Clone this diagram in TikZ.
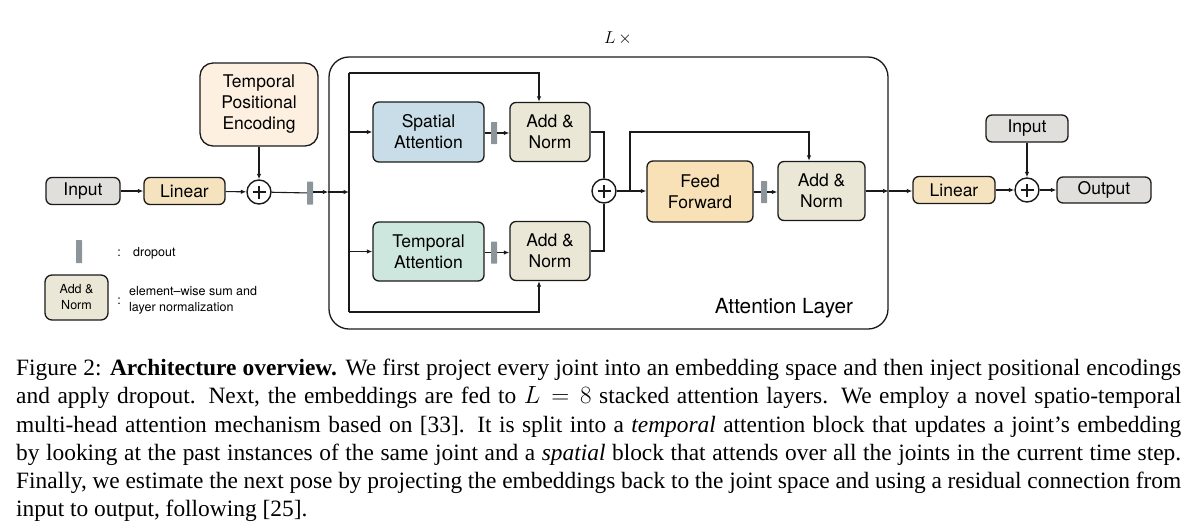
\documentclass[tikz,border=0pt]{standalone}
\usepackage{fontspec}
\setmainfont{Liberation Serif}
\newfontfamily\dfont{TeX Gyre Heros}
\usetikzlibrary{arrows.meta,calc}
\definecolor{cinput}{HTML}{E0DFDC}
\definecolor{clinear}{HTML}{F5E3BF}
\definecolor{ctpe}{HTML}{FDF0E1}
\definecolor{caddn}{HTML}{EBE7D6}
\definecolor{cspat}{HTML}{C8DDE7}
\definecolor{ctemp}{HTML}{CDE6DE}
\definecolor{cff}{HTML}{F8E1B6}
\definecolor{cdrop}{HTML}{8C9599}
\definecolor{cline}{HTML}{1A1A1A}
\begin{document}
\begin{tikzpicture}[x=1pt,y=-1pt,
  box/.style={draw=cline, line width=1.3pt, rounded corners=6pt, inner sep=0pt, align=center,
    font=\dfont\fontsize{17.5}{21}\selectfont},
  conn/.style={draw=cline, line width=1.1pt, -{Latex[length=5.5pt,width=4.5pt]}},
  plain/.style={draw=cline, line width=1.1pt},
  drop/.style={fill=cdrop, minimum width=6pt, minimum height=22pt, inner sep=0pt, rounded corners=0.5pt},
  plusnode/.style={circle, draw=cline, line width=1.4pt, fill=white, minimum size=24pt, inner sep=0pt,
    path picture={\draw[line width=1.8pt] ([xshift=-6.5pt]path picture bounding box.center) -- ++(13pt,0pt);
      \draw[line width=1.8pt] ([yshift=-6.5pt]path picture bounding box.center) -- ++(0pt,13pt);}},
  lbl/.style={inner sep=0pt, font=\dfont\fontsize{19}{22}\selectfont},
  small/.style={inner sep=0pt, font=\dfont\fontsize{12.5}{16}\selectfont, align=left}
]
\useasboundingbox (0,0) rectangle (1197,531);

% input side
\node[box, fill=cinput, minimum width=74pt, minimum height=27pt] (inp) at (83,191) {Input};
\node[box, fill=clinear, minimum width=81pt, minimum height=27pt] (lin1) at (184.5,191) {Linear};
\node[plusnode] (plus1) at (259,192) {};
\node[box, fill=ctpe, minimum width=118pt, minimum height=83pt, rounded corners=13pt] (tpe) at (259,104.5) {Temporal\\Positional\\Encoding};
\node[drop, minimum height=23pt] (drop1) at (310,193) {};

% attention layer frame
\node[draw=cline, line width=1.3pt, rounded corners=20pt, minimum width=559pt, minimum height=272pt, inner sep=0pt] (layer) at (608.5,193) {};
\node[lbl] (ltimes) at (618,38) {$L\,\times$};
\node[lbl, font=\dfont\fontsize{20.8}{24}\selectfont] (attl) at (784,308) {Attention Layer};

\coordinate (vin) at (349,192);
\coordinate (ctop) at (349,73);
\coordinate (cbot) at (349,312);

\node[box, fill=cspat, minimum width=111pt, minimum height=60pt] (sa) at (428.5,132) {Spatial\\Attention};
\node[box, fill=ctemp, minimum width=111pt, minimum height=59pt] (ta) at (428.5,251.5) {Temporal\\Attention};
\node[drop] (dsa) at (494,133) {};
\node[drop] (dta) at (494,252.5) {};
\node[box, fill=caddn, minimum width=80pt, minimum height=59pt] (an1) at (550,132) {Add \&\\Norm};
\node[box, fill=caddn, minimum width=80pt, minimum height=59pt] (an2) at (550,251) {Add \&\\Norm};
\node[plusnode] (plus2) at (604,191) {};
\node[box, fill=cff, minimum width=106pt, minimum height=61pt] (ff) at (700,191.5) {Feed\\Forward};
\node[drop] (dff) at (764,192) {};
\node[box, fill=caddn, minimum width=87pt, minimum height=59pt] (an3) at (821.5,191) {Add \&\\Norm};
\coordinate (br) at (630,191);

% output side
\node[box, fill=clinear, minimum width=82pt, minimum height=27pt] (lin2) at (954,190) {Linear};
\node[plusnode] (plus3) at (1027,190) {};
\node[box, fill=cinput, minimum width=82pt, minimum height=27pt] (inp2) at (1027,128.5) {Input};
\node[box, fill=cinput, minimum width=94pt, minimum height=26pt] (out) at (1104,190) {Output};

% connectors
\draw[conn] (inp) -- (lin1);
\draw[conn] (lin1) -- (plus1);
\draw[conn] (tpe) -- (plus1);
\draw[plain] (plus1) -- (drop1);
\draw[conn] (drop1.east |- vin) -- (layer.west |- vin);
\draw[conn] (layer.west |- vin) -- (vin);
\draw[plain] (ctop) -- (cbot);
\draw[conn] (vin |- sa) -- (sa.west);
\draw[conn] (vin |- ta) -- (ta.west);
\draw[plain] (sa.east |- dsa) -- (dsa);
\draw[conn] (dsa.east) -- (an1.west |- dsa);
\draw[plain] (ta.east |- dta) -- (dta);
\draw[conn] (dta.east) -- (an2.west |- dta);
\draw[conn] (ctop) -| ([xshift=-11pt]an1.north);
\draw[conn] (cbot) -| ([xshift=-11pt]an2.south);
\draw[plain] (an1.east) -| (plus2.north);
\draw[plain] (an2.east) -| (plus2.south);
\draw[conn] (plus2.east) -- (ff.west |- plus2);
\draw[conn] (br) -- ++(0,-59) -| ([xshift=-12.5pt]an3.north);
\draw[plain] (ff.east |- dff) -- (dff);
\draw[conn] (dff.east) -- (an3.west |- dff);
\draw[conn] (an3.east) -- (layer.east |- an3);
\draw[conn] (layer.east |- an3) -- (lin2.west |- an3);
\draw[conn] (lin2) -- (plus3);
\draw[conn] (inp2) -- (plus3);
\draw[conn] (plus3) -- (out);

% legend
\node[drop, minimum height=23pt] (ldrop) at (79,251.5) {};
\node[small] (lc1) at (119,253) {:};
\node[small, anchor=west] (ltxt1) at (133,253) {dropout};
\node[box, fill=caddn, minimum width=63pt, minimum height=45pt, rounded corners=7pt,
  font=\dfont\fontsize{12.5}{16}\selectfont] (lan) at (76.5,297.5) {Add \&\\Norm};
\node[small] (lc2) at (119,301) {:};
\node[small, anchor=west] (ltxt2) at (129,300) {element\textendash wise sum and\\layer normalization};

% caption
\node[anchor=north west, inner sep=0pt, text width=1165pt, align=justify,
  font=\fontsize{23.4}{28.2}\selectfont] (cap) at (16,359) {\tolerance=9999\emergencystretch=20pt
Figure 2: \textbf{Architecture overview.} We first project every joint into an embedding space and then inject positional encodings\linebreak
and apply dropout. Next, the embeddings are fed to $L=8$ stacked attention layers. We employ a novel spatio-temporal\linebreak
multi-head attention mechanism based on [33]. It is split into a \textit{temporal} attention block that updates a joint's embedding\linebreak
by looking at the past instances of the same joint and a \textit{spatial} block that attends over all the joints in the current time step.\linebreak
Finally, we estimate the next pose by projecting the embeddings back to the joint space and using a residual connection from\linebreak
input to output, following [25].};
\end{tikzpicture}
\end{document}
